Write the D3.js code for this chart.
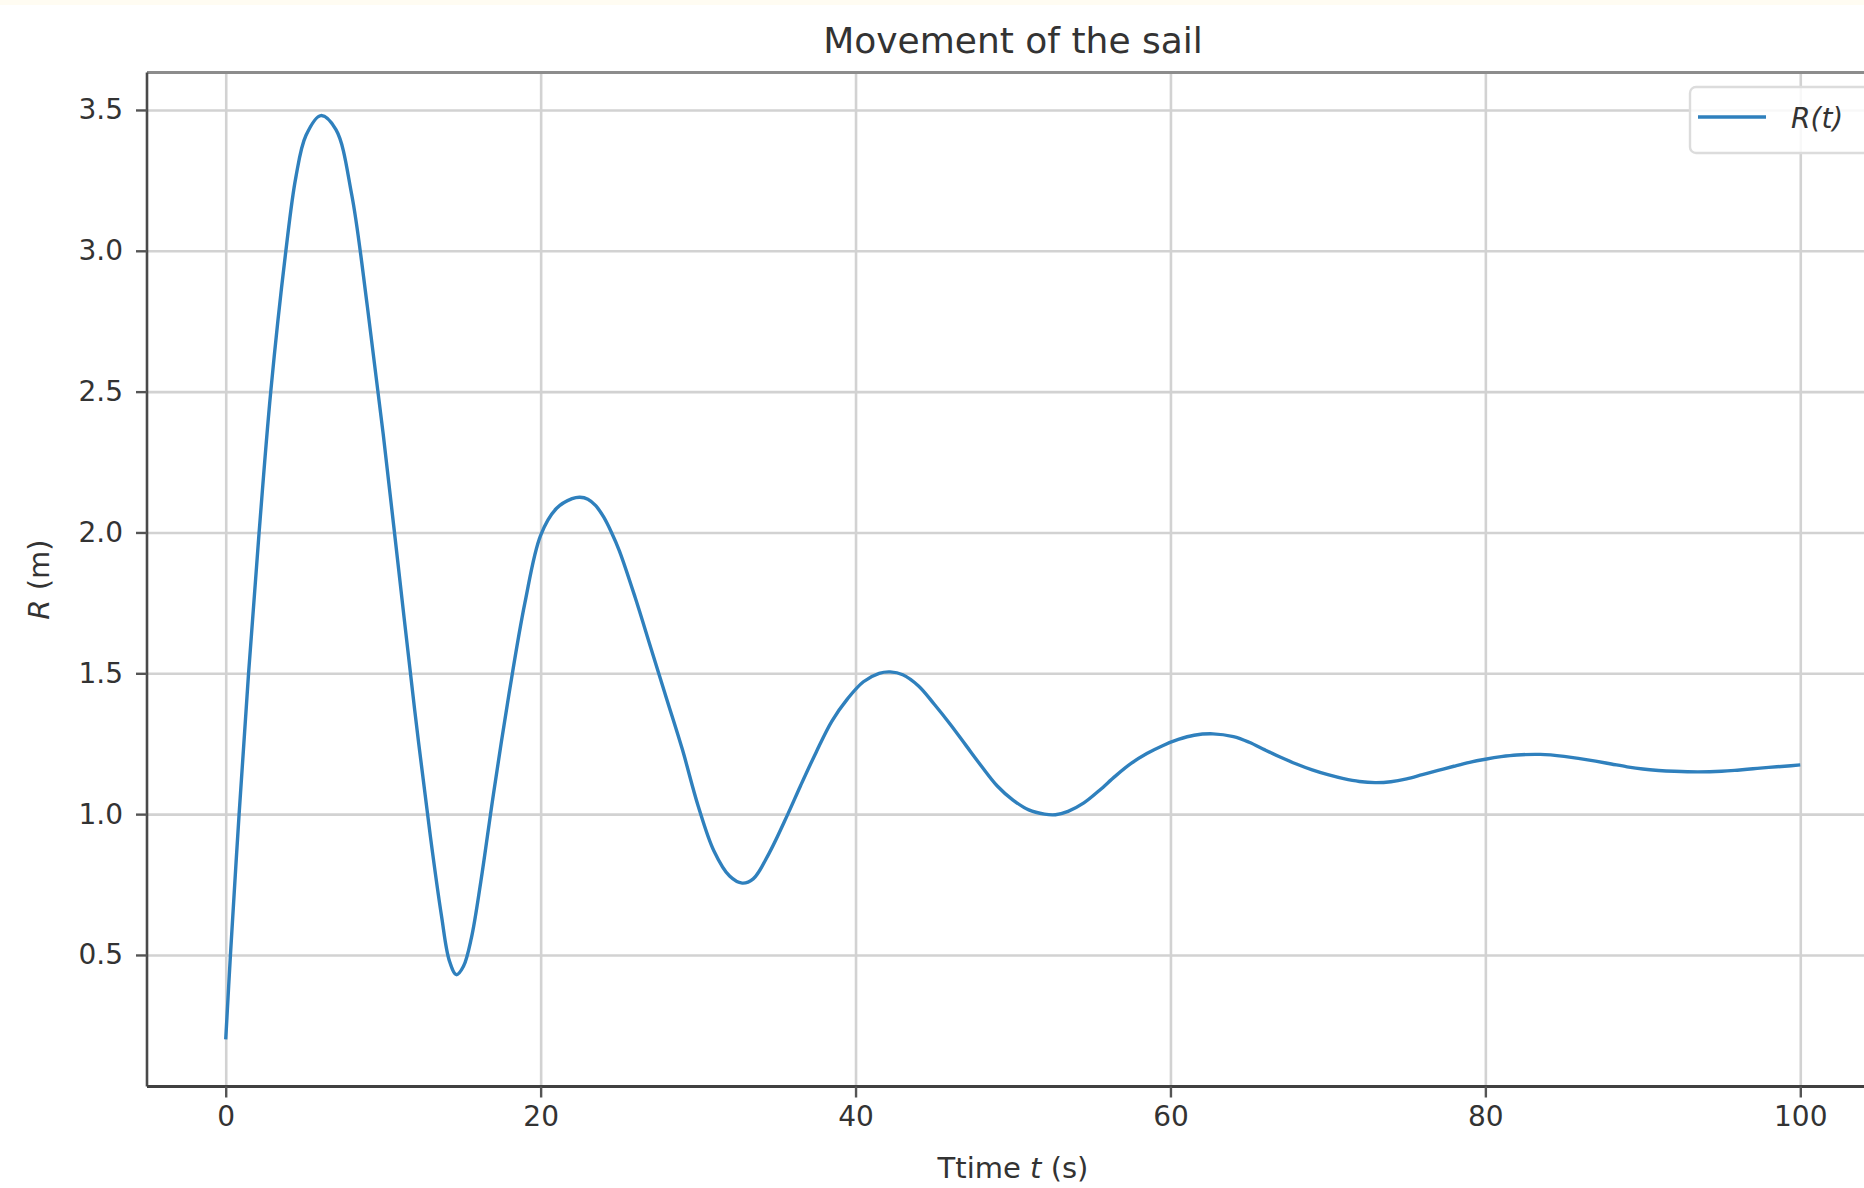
<!DOCTYPE html>
<html>
<head>
<meta charset="utf-8">
<script src="https://cdn.jsdelivr.net/npm/d3@7"></script>
<style>
  html, body { margin: 0; padding: 0; background: #fff; }
  svg { display: block; font-family: "DejaVu Sans", sans-serif; }
</style>
</head>
<body>
<svg id="chart" width="1864" height="1188"></svg>
<script>
// Movement of the sail — R(t)

// Data
const timeValues = [0, 0.3, 0.85, 1.45, 2.12, 2.86, 3.82, 4.45, 5.1, 6.04, 7, 8, 9, 10,
  11, 12, 13, 13.7, 14.2, 14.65, 15.1, 15.6, 16.2, 17, 18, 19, 20, 21, 22, 22.5, 23, 23.5, 24, 24.5,
  25, 26, 27, 28, 29, 30, 31, 32, 32.8, 33.5, 34.5, 35.7, 36.5, 37.5, 38.5, 39.5, 40.5, 41.5,
  42.2, 43, 44, 45, 46, 47, 48, 49, 50, 51, 52, 52.7, 53.5, 54.5, 55.5, 56.5, 57.5, 58.5,
  59.5, 60.5, 61.5, 62.7, 64, 65, 66, 67, 68, 69, 70, 71, 72, 73, 74, 75, 76, 77, 78, 79,
  80, 81, 82, 83.5, 85, 86, 87, 88, 89, 90, 91, 92, 93.5, 95, 96, 97, 98, 99, 100];
const radiusValues = [0.20, 0.50, 1.00, 1.50, 2.00, 2.50, 3.00, 3.26, 3.41, 3.48, 3.43, 3.20, 2.80, 2.35,
  1.86, 1.37, 0.92, 0.64, 0.48, 0.43, 0.46, 0.56, 0.76, 1.07, 1.43, 1.75, 1.99, 2.085, 2.12, 2.125, 2.118, 2.095, 2.055, 2.00,
  1.935, 1.77, 1.59, 1.41, 1.23, 1.03, 0.87, 0.78, 0.755, 0.77, 0.86, 1.00, 1.10, 1.22, 1.33, 1.41, 1.47, 1.50,
  1.505, 1.495, 1.455, 1.39, 1.32, 1.245, 1.17, 1.10, 1.05, 1.015, 1.00, 0.998, 1.01, 1.04, 1.085, 1.135, 1.18, 1.215,
  1.243, 1.265, 1.28, 1.285, 1.275, 1.255, 1.228, 1.202, 1.178, 1.157, 1.14, 1.126, 1.116, 1.112, 1.115, 1.125, 1.14, 1.155, 1.17, 1.184,
  1.195, 1.204, 1.21, 1.212, 1.205, 1.197, 1.188, 1.178, 1.168, 1.16, 1.155, 1.152, 1.15, 1.152, 1.156, 1.161, 1.166, 1.17, 1.175];
const xTicks = [0, 20, 40, 60, 80, 100];
const yTicks = [0.5, 1.0, 1.5, 2.0, 2.5, 3.0, 3.5];

const svg = d3.select("#chart");

// Plot frame (right side runs past the picture edge, as in the reference)
const plotLeft = 147, plotRight = 1879, plotTop = 72.5, plotBottom = 1086.5;

const x = d3.scaleLinear().domain([-5, 105]).range([plotLeft, plotRight]);
const y = d3.scaleLinear().domain([0.033, 3.633]).range([plotBottom, plotTop]);

// faint cream strip at the very top of the screenshot
svg.append("rect").attr("x", 0).attr("y", 0).attr("width", 1864).attr("height", 5).attr("fill", "#fffcf2");

// Grid
svg.append("g")
    .attr("transform", `translate(0,${plotBottom})`)
    .call(d3.axisBottom(x).tickValues(xTicks).tickSize(-(plotBottom - plotTop)).tickFormat(""))
    .call(g => g.select(".domain").remove())
    .call(g => g.selectAll("line").attr("stroke", "#d2d2d2").attr("stroke-width", 2.6));

svg.append("g")
    .attr("transform", `translate(${plotLeft},0)`)
    .call(d3.axisLeft(y).tickValues(yTicks).tickSize(-(plotRight - plotLeft)).tickFormat(""))
    .call(g => g.select(".domain").remove())
    .call(g => g.selectAll("line").attr("stroke", "#d2d2d2").attr("stroke-width", 2.6));

// Curve
const points = timeValues.map((t, i) => [t, radiusValues[i]]);
const line = d3.line()
    .x(d => x(d[0]))
    .y(d => y(d[1]))
    .curve(d3.curveCatmullRom.alpha(0.5));

svg.append("path")
    .datum(points)
    .attr("fill", "none")
    .attr("stroke", "#2f80bd")
    .attr("stroke-width", 3.4)
    .attr("stroke-linejoin", "round")
    .attr("d", line);

// Spines
svg.append("line").attr("x1", plotLeft).attr("x2", plotRight).attr("y1", plotTop).attr("y2", plotTop)
    .attr("stroke", "#8c8c8c").attr("stroke-width", 3);
svg.append("line").attr("x1", plotLeft).attr("x2", plotLeft).attr("y1", plotTop).attr("y2", plotBottom)
    .attr("stroke", "#4a4a4a").attr("stroke-width", 2.6);
svg.append("line").attr("x1", plotLeft).attr("x2", plotRight).attr("y1", plotBottom).attr("y2", plotBottom)
    .attr("stroke", "#404040").attr("stroke-width", 3);

// Axes
const xAxis = svg.append("g")
    .attr("transform", `translate(0,${plotBottom})`)
    .call(d3.axisBottom(x).tickValues(xTicks).tickSize(11).tickPadding(9).tickFormat(d3.format("d")));
const yAxis = svg.append("g")
    .attr("transform", `translate(${plotLeft},0)`)
    .call(d3.axisLeft(y).tickValues(yTicks).tickSize(11).tickPadding(13).tickFormat(d3.format(".1f")));

[xAxis, yAxis].forEach(g => {
    g.select(".domain").remove();
    g.selectAll("line").attr("stroke", "#555").attr("stroke-width", 2.4);
    g.selectAll("text")
        .attr("fill", "#333")
        .style("font-family", "'DejaVu Sans', sans-serif")
        .style("font-size", "28px");
});

// Title and axis labels
svg.append("text")
    .attr("x", (plotLeft + plotRight) / 2)
    .attr("y", 53)
    .attr("text-anchor", "middle")
    .attr("fill", "#333")
    .style("font-size", "36px")
    .text("Movement of the sail");

const xLabel = svg.append("text")
    .attr("x", (plotLeft + plotRight) / 2)
    .attr("y", 1178)
    .attr("text-anchor", "middle")
    .attr("fill", "#333")
    .style("font-size", "29px");
xLabel.append("tspan").text("Ttime ");
xLabel.append("tspan").attr("font-style", "italic").text("t");
xLabel.append("tspan").text(" (s)");

const yLabel = svg.append("text")
    .attr("transform", `translate(49,${(plotTop + plotBottom) / 2}) rotate(-90)`)
    .attr("text-anchor", "middle")
    .attr("fill", "#333")
    .style("font-size", "29px");
yLabel.append("tspan").attr("font-style", "italic").text("R");
yLabel.append("tspan").text(" (m)");

// Legend
const legend = svg.append("g");
legend.append("rect")
    .attr("x", 1690).attr("y", 87).attr("width", 220).attr("height", 66).attr("rx", 6)
    .attr("fill", "#fff").attr("fill-opacity", 0.85)
    .attr("stroke", "#dcdcdc").attr("stroke-width", 2.4);
legend.append("line")
    .attr("x1", 1698).attr("x2", 1766).attr("y1", 117).attr("y2", 117)
    .attr("stroke", "#2f80bd").attr("stroke-width", 3.4);
legend.append("text")
    .attr("x", 1791).attr("y", 128)
    .attr("fill", "#333")
    .attr("font-style", "italic")
    .style("font-size", "28px")
    .text("R(t)");
</script>
</body>
</html>
